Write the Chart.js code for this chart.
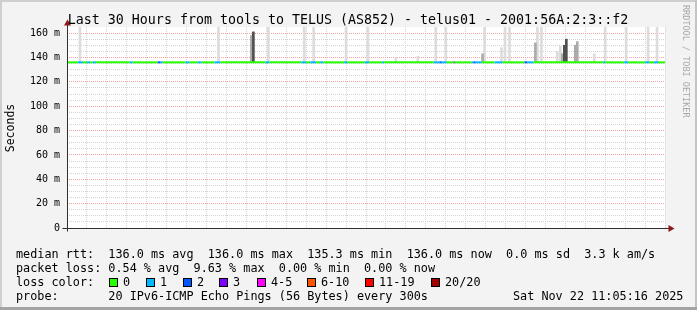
<!DOCTYPE html>
<html lang="en">
<head>
<meta charset="UTF-8">
<title>telus01 - Last 30 Hours</title>
<script src="https://cdn.jsdelivr.net/npm/chart.js"></script>
<style>
    body { margin: 0; background: #f3f3f3; }
    #wrap { position: relative; width: 697px; height: 310px; }
</style>
</head>
<body>
<div id="wrap"><canvas id="smoke" width="697" height="310"></canvas></div>
<script>
// time is in hours counted from Fri 00:00
const startHour = 5.1;
const endHour = 35.1;
const xTickHours = [6, 12, 18, 24, 30];
const xTickLabels = ['Fri 06:00', 'Fri 12:00', 'Fri 18:00', 'Sat 00:00', 'Sat 06:00'];

const medianRtt = 136.0;

// loss bucket of the median line, changing at each time
const lossTimes = [5.1, 5.65, 5.9, 6.1, 6.25, 6.4, 6.55, 8.25, 8.4, 9.65, 9.8, 9.9,
    11.05, 11.25, 11.65, 11.85, 12.5, 12.8, 15.05, 15.25, 16.85, 17.1, 17.3, 17.6,
    17.8, 17.95, 19.0, 19.15, 20.05, 20.25, 20.9, 21.0, 23.5, 23.8, 23.9, 24.15,
    24.5, 24.55, 25.4, 25.5, 25.6, 25.9, 26.55, 26.95, 28.05, 28.2, 28.5, 32.0,
    32.1, 33.05, 33.25, 34.1, 34.3, 34.55, 34.75, 35.1];
const lossBucket = [0, 1, 0, 1, 0, 1, 0, 1, 0, 2, 1, 0,
    1, 0, 1, 0, 1, 0, 1, 0, 1, 0, 1, 0,
    1, 0, 1, 0, 1, 0, 1, 0, 1, 2, 1, 0,
    3, 0, 1, 2, 1, 0, 1, 0, 2, 1, 0, 1,
    0, 1, 0, 1, 0, 1, 0, 0];

const lossLabels = ['0', '1', '2', '3', '4-5', '6-10', '11-19', '20/20'];
const lossColors = ['#26ff00', '#00b8ff', '#0059ff', '#7e00ff', '#ff00ff', '#ff5500', '#ff0000', '#a10000'];

// smoke (ping spread above the median), three shades
const lightTimes = [5.75, 12.7, 15.2, 17.0, 17.475, 19.1, 20.2, 21.6, 22.7, 23.6, 24.1, 26.05,
    26.9, 27.075, 27.3, 28.7, 28.9, 29.7, 29.85, 31.55, 32.1, 33.15, 34.25, 34.7];
const lightTops = [166, 166, 166, 166, 166, 166, 166, 140, 141, 166, 166, 166,
    148, 166, 166, 166, 166, 145, 149, 143, 166, 166, 166, 166];
const midTimes = [14.35, 25.95, 28.6, 29.95, 30.6, 30.7];
const midTops = [158, 143, 152, 143, 150, 153];
const darkTimes = [14.45, 30.05, 30.15];
const darkTops = [161, 150, 155];

const mono = '"DejaVu Sans Mono", monospace';

function bars(times, tops) {
    return times.map((t, i) => ({ x: t, y: [medianRtt, tops[i]] }));
}

const frame = {
    id: 'frame',
    beforeDraw(chart) {
        const c = chart.ctx, a = chart.chartArea;
        c.save();
        c.fillStyle = '#f3f3f3';
        c.fillRect(0, 0, chart.width, chart.height);
        c.fillStyle = '#cfcfcf';
        c.fillRect(0, 0, chart.width, 2);
        c.fillRect(0, 0, 2, chart.height);
        c.fillStyle = '#c4c4c4';
        c.fillRect(chart.width - 2, 0, 2, chart.height);
        c.fillStyle = '#a4a4a4';
        c.fillRect(0, chart.height - 3, chart.width, 3);
        c.fillStyle = '#ffffff';
        c.fillRect(a.left, a.top, a.right - a.left, a.bottom - a.top);
        c.restore();
    },
    afterDatasetsDraw(chart) {
        const c = chart.ctx, a = chart.chartArea;
        const x0 = Math.round(a.left) + 0.5, y0 = Math.round(a.bottom) + 0.5;
        c.save();
        c.strokeStyle = '#303030';
        c.lineWidth = 1;
        c.beginPath();
        c.moveTo(x0, y0 + 3);
        c.lineTo(x0, a.top - 3);
        c.moveTo(x0 - 5, y0);
        c.lineTo(a.right + 4, y0);
        c.stroke();
        c.fillStyle = '#8a1a1a';
        c.beginPath();
        c.moveTo(x0 - 3.5, a.top - 1.5);
        c.lineTo(x0 + 3.5, a.top - 1.5);
        c.lineTo(x0, a.top - 7.5);
        c.closePath();
        c.fill();
        c.beginPath();
        c.moveTo(a.right + 3.5, y0 - 3.5);
        c.lineTo(a.right + 3.5, y0 + 3.5);
        c.lineTo(a.right + 9.5, y0);
        c.closePath();
        c.fill();
        c.restore();
    },
    afterDraw(chart) {
        const c = chart.ctx;
        c.save();
        c.fillStyle = '#000';
        c.textBaseline = 'alphabetic';
        c.font = '13.3px ' + mono;
        c.textAlign = 'center';
        c.fillText('Last 30 Hours from tools to TELUS (AS852) - telus01 - 2001:56A:2:3::f2', 348, 24);

        c.save();
        c.translate(14, 128);
        c.rotate(-Math.PI / 2);
        c.font = '11.5px ' + mono;
        c.fillText('Seconds', 0, 0);
        c.restore();

        c.save();
        c.translate(683, 5);
        c.rotate(Math.PI / 2);
        c.textAlign = 'left';
        c.fillStyle = '#a8a8a8';
        c.font = '8.5px ' + mono;
        c.fillText('RRDTOOL / TOBI OETIKER', 0, 0);
        c.restore();

        c.textAlign = 'left';
        c.font = '11.8px ' + mono;
        c.fillText('median rtt:  136.0 ms avg  136.0 ms max  135.3 ms min  136.0 ms now  0.0 ms sd  3.3 k am/s', 16, 258);
        c.fillText('packet loss: 0.54 % avg  9.63 % max  0.00 % min  0.00 % now', 16, 272);
        c.fillText('loss color:', 16, 286);
        c.fillText('probe:       20 IPv6-ICMP Echo Pings (56 Bytes) every 300s', 16, 300);
        c.fillText('Sat Nov 22 11:05:16 2025', 513, 300);

        const boxX = [109, 146, 183, 219, 257, 307, 365, 431];
        lossLabels.forEach((lab, i) => {
            c.fillStyle = lossColors[i];
            c.fillRect(boxX[i], 278, 8, 8);
            c.strokeStyle = '#000';
            c.lineWidth = 1;
            c.strokeRect(boxX[i] + 0.5, 278.5, 8, 8);
            c.fillStyle = '#000';
            c.fillText(lab, boxX[i] + 14, 286);
        });
        c.restore();
    }
};

const ctx = document.getElementById('smoke').getContext('2d');
const chart = new Chart(ctx, {
    type: 'bar',
    data: {
        datasets: [
            {
                type: 'line',
                data: lossTimes.map(t => ({ x: t, y: medianRtt })),
                borderColor: lossColors[0],
                borderWidth: 2,
                pointRadius: 0,
                tension: 0,
                order: 0,
                segment: { borderColor: s => lossColors[lossBucket[s.p0DataIndex]] }
            },
            { data: bars(darkTimes, darkTops), backgroundColor: '#505050', barThickness: 2, grouped: false, order: 1 },
            { data: bars(midTimes, midTops), backgroundColor: '#ababab', barThickness: 2, grouped: false, order: 2 },
            { data: bars(lightTimes, lightTops), backgroundColor: '#dcdcdc', barThickness: 2, grouped: false, order: 3 }
        ]
    },
    options: {
        responsive: false,
        animation: false,
        layout: { padding: { left: 0, right: 32, top: 27, bottom: 62 } },
        plugins: { legend: { display: false }, tooltip: { enabled: false } },
        scales: {
            x: {
                type: 'linear',
                min: startHour,
                max: endHour,
                offset: false,
                afterFit: s => { s.height = 20; },
                grid: {
                    offset: false,
                    color: g => g.tick && g.tick.value % 3 === 0 ? '#f2a2a2' : '#d4d4d4',
                    tickColor: g => g.tick && g.tick.value % 3 === 0 ? '#f2a2a2' : 'rgba(0,0,0,0)',
                    tickLength: 3
                },
                border: { display: false, dash: [1, 1] },
                ticks: {
                    stepSize: 1,
                    autoSkip: false,
                    includeBounds: false,
                    maxRotation: 0,
                    minRotation: 0,
                    padding: 1,
                    color: '#000',
                    font: { family: mono, size: 10 },
                    callback: v => {
                        const i = xTickHours.indexOf(v);
                        return i >= 0 ? xTickLabels[i] : '';
                    }
                }
            },
            y: {
                min: 0,
                max: 165,
                afterFit: s => { s.width = 67; },
                grid: {
                    drawTicks: false,
                    color: g => {
                        const v = g.tick ? g.tick.value : 0;
                        if (v === 165) return 'rgba(0,0,0,0)';
                        return v % 20 === 0 ? '#f2a2a2' : '#d4d4d4';
                    }
                },
                border: { display: false, dash: [1, 1] },
                ticks: {
                    stepSize: 5,
                    autoSkip: false,
                    padding: 7,
                    color: '#000',
                    font: { family: mono, size: 10 },
                    callback: v => v % 20 === 0 ? (v === 0 ? '0' : v + ' m') : ''
                }
            }
        }
    },
    plugins: [frame]
});
</script>
</body>
</html>
